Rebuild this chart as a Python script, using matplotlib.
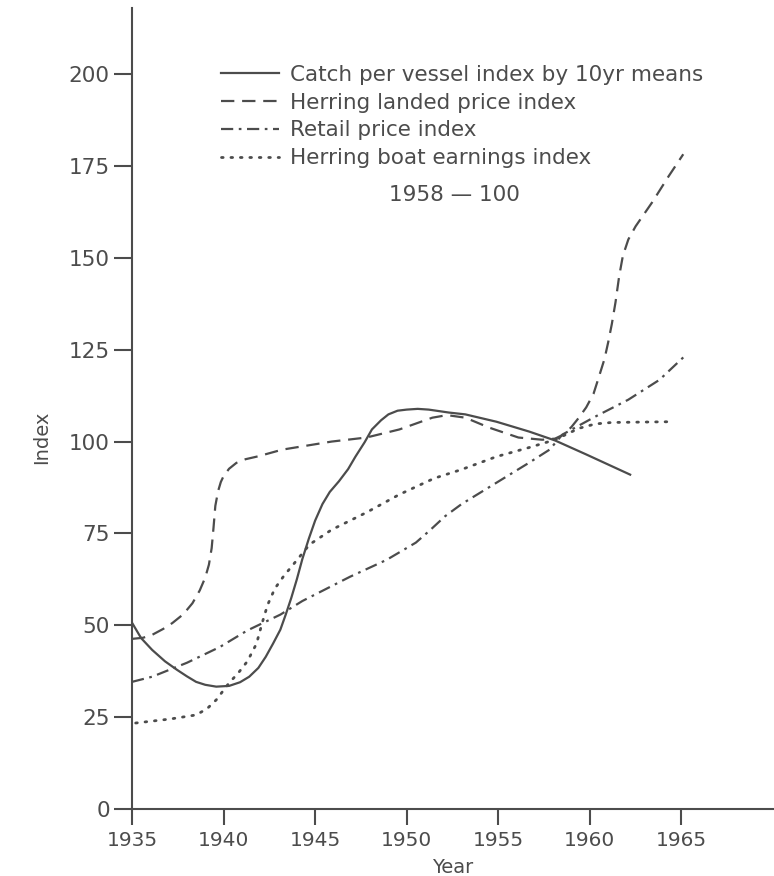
import matplotlib
matplotlib.use("Agg")
import matplotlib.pyplot as plt

# colours / font
ink = '#4c4c4c'
plt.rcParams['font.family'] = ['DejaVu Sans']

# catch per vessel index by 10yr means (solid)
catch_years = [1935.0, 1935.5, 1936.1, 1936.8, 1937.45, 1938.0, 1938.5, 1939.0, 1939.6,
               1940.3, 1940.9, 1941.4, 1941.9, 1942.3, 1942.7, 1943.1, 1943.4, 1943.7,
               1944.0, 1944.3, 1944.65, 1945.0, 1945.4, 1945.8, 1946.3, 1946.8, 1947.2,
               1947.7, 1948.1, 1948.6, 1949.0, 1949.5, 1950.0, 1950.6, 1951.2, 1952.3,
               1953.2, 1954.9, 1956.7, 1958.1, 1959.8, 1962.2]
catch_vals = [50.7, 46.5, 43.3, 40.2, 37.9, 36.1, 34.6, 33.8, 33.3,
              33.5, 34.5, 36.0, 38.4, 41.4, 45.0, 48.8, 53.0, 57.5,
              62.5, 68.0, 73.5, 78.5, 83.0, 86.3, 89.2, 92.5, 95.9,
              99.8, 103.3, 105.8, 107.4, 108.4, 108.7, 108.9, 108.7, 107.9,
              107.4, 105.4, 102.7, 100.3, 96.5, 91.0]

# herring landed price index (dashed)
landed_years = [1935.0, 1935.6, 1936.1, 1936.7, 1937.2, 1937.8, 1938.3, 1938.7, 1939.0,
                1939.2, 1939.35, 1939.45, 1939.55, 1939.7, 1939.85, 1940.0, 1940.3, 1940.7,
                1941.2, 1941.9, 1943.2, 1945.9, 1947.8, 1949.6, 1951.4, 1952.2, 1953.2,
                1954.5, 1956.1, 1957.4, 1958.1, 1958.6, 1959.0, 1959.4, 1959.8, 1960.2,
                1960.5, 1960.8, 1961.0, 1961.2, 1961.4, 1961.6, 1961.8, 1962.1, 1962.5,
                1963.4, 1964.3, 1965.1]
landed_vals = [46.3, 46.6, 47.4, 49.0, 50.6, 53.0, 56.0, 59.5, 63.0,
               66.5, 71.0, 76.5, 82.5, 86.5, 89.0, 90.6, 92.6, 94.2,
               95.2, 96.0, 97.8, 100.0, 101.1, 103.3, 106.5, 107.2, 106.5,
               103.8, 101.1, 100.5, 100.8, 102.0, 104.0, 106.5, 109.3, 113.0,
               117.7, 122.5, 127.0, 132.0, 137.9, 145.0, 150.5, 155.0, 158.6,
               165.1, 172.2, 178.2]

# retail price index (dash-dot)
retail_years = [1935.0, 1936.1, 1938.0, 1939.8, 1941.3, 1943.1, 1944.3, 1946.9, 1948.9,
                1950.5, 1951.3, 1952.1, 1953.0, 1954.9, 1956.7, 1957.8, 1958.5, 1960.3,
                1962.1, 1963.8, 1965.1]
retail_vals = [34.6, 36.0, 39.8, 44.1, 48.6, 52.9, 56.6, 63.2, 67.8,
               72.5, 76.0, 79.7, 83.0, 88.8, 94.3, 97.8, 101.9, 106.8,
               111.4, 116.8, 122.9]

# herring boat earnings index (dotted)
earn_years = [1935.2, 1937.1, 1938.5, 1939.1, 1939.6, 1940.3, 1940.8, 1941.3, 1941.8,
              1942.1, 1942.4, 1942.8, 1943.3, 1943.8, 1944.7, 1945.9, 1947.8, 1949.6,
              1951.5, 1953.0, 1954.9, 1956.7, 1958.1, 1959.4, 1960.3, 1961.2, 1964.4]
earn_vals = [23.4, 24.5, 25.6, 27.3, 29.7, 34.3, 37.0, 40.2, 45.0,
             50.5, 55.5, 60.0, 63.5, 66.5, 72.0, 76.0, 80.7, 85.6,
             90.0, 92.4, 95.9, 98.4, 100.5, 103.6, 104.8, 105.2, 105.4]

labels = ['Catch per vessel index by 10yr means',
          'Herring landed price index',
          'Retail price index',
          'Herring boat earnings index']

x_ticks = [1935, 1940, 1945, 1950, 1955, 1960, 1965]
y_ticks = [0, 25, 50, 75, 100, 125, 150, 175, 200]

fig = plt.figure(figsize=(7.74, 8.76), dpi=100)
ax = fig.add_axes([132 / 774, 1 - 809 / 876, (773 - 132) / 774, (809 - 8) / 876])

lw = 1.6
ax.plot(catch_years, catch_vals, color=ink, lw=lw, linestyle='-', label=labels[0])
ax.plot(landed_years, landed_vals, color=ink, lw=lw, linestyle=(0, (6, 3.5)), label=labels[1])
ax.plot(retail_years, retail_vals, color=ink, lw=lw, linestyle=(0, (5.5, 2.5, 1.2, 2.5)), label=labels[2])
ax.plot(earn_years, earn_vals, color=ink, lw=2.0, linestyle=(0, (0.6, 2.8)),
        dash_capstyle='round', label=labels[3])

ax.set_xlim(1935, 1970)
ax.set_ylim(0, 218)
ax.set_xticks(x_ticks)
ax.set_yticks(y_ticks)

for s in ['top', 'right']:
    ax.spines[s].set_visible(False)
for s in ['left', 'bottom']:
    ax.spines[s].set_color(ink)
    ax.spines[s].set_linewidth(1.5)

ax.tick_params(axis='y', direction='out', length=13, width=1.5, color=ink,
               labelcolor=ink, labelsize=15.5, pad=3)
ax.tick_params(axis='x', direction='out', length=11.5, width=1.5, color=ink,
               labelcolor=ink, labelsize=14.5, pad=4)

ax.set_xlabel('Year', fontsize=14, color=ink, labelpad=6)
fig.text(42 / 774, 1 - 437 / 876, 'Index', rotation=90, fontsize=14, color=ink,
         ha='center', va='center')

leg = ax.legend(loc='upper left', bbox_to_anchor=(221 / 774, 1 - 65 / 876),
                bbox_transform=fig.transFigure, frameon=False, fontsize=15.5,
                handlelength=2.7, handletextpad=0.5, labelspacing=0.36,
                borderaxespad=0, borderpad=0)
for t in leg.get_texts():
    t.set_color(ink)

fig.text(454 / 774, 1 - 195 / 876, '1958 — 100', fontsize=15.5, color=ink,
         ha='center', va='center')

fig.savefig('out.png', dpi=100)
